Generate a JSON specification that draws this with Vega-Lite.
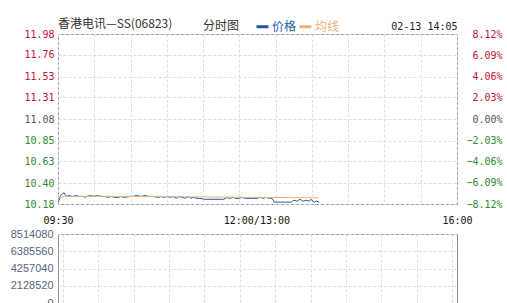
{
  "$schema": "https://vega.github.io/schema/vega-lite/v6.json",
  "background": "white",
  "padding": {"left": 9, "top": 17, "right": 4, "bottom": 2},
  "spacing": 1,
  "config": {
    "view": {"stroke": "#8c9099", "strokeWidth": 1},
    "axis": {"gridColor": "#dedede", "gridDash": [3, 2], "domain": false, "ticks": false, "labelFont": "DejaVu Sans Mono", "labelFontSize": 10, "labelColor": "#111"}
  },
  "vconcat": [
    {
      "width": 399,
      "height": 170,
      "title": {"text": "香港电讯—SS(06823)", "anchor": "start", "frame": "group", "fontSize": 12, "font": "Noto Sans CJK SC", "fontWeight": "normal", "color": "#333", "offset": -10},
      "resolve": {"scale": {"y": "independent"}, "axis": {"x": "independent"}},
      "layer": [
        {
          "data": {"values": [
            {"m":0,"v":10.20,"s":"价格"},{"m":1,"v":10.22,"s":"价格"},{"m":2,"v":10.27,"s":"价格"},{"m":5,"v":10.30,"s":"价格"},{"m":7,"v":10.26,"s":"价格"},{"m":9,"v":10.27,"s":"价格"},{"m":12,"v":10.26,"s":"价格"},{"m":15,"v":10.27,"s":"价格"},{"m":17,"v":10.26,"s":"价格"},{"m":21,"v":10.26,"s":"价格"},{"m":22,"v":10.25,"s":"价格"},{"m":24,"v":10.26,"s":"价格"},{"m":27,"v":10.27,"s":"价格"},{"m":30,"v":10.26,"s":"价格"},{"m":32,"v":10.27,"s":"价格"},{"m":36,"v":10.26,"s":"价格"},{"m":39,"v":10.26,"s":"价格"},{"m":41,"v":10.25,"s":"价格"},{"m":44,"v":10.26,"s":"价格"},{"m":47,"v":10.25,"s":"价格"},{"m":50,"v":10.25,"s":"价格"},{"m":52,"v":10.26,"s":"价格"},{"m":55,"v":10.25,"s":"价格"},{"m":59,"v":10.26,"s":"价格"},{"m":62,"v":10.26,"s":"价格"},{"m":65,"v":10.27,"s":"价格"},{"m":69,"v":10.26,"s":"价格"},{"m":72,"v":10.27,"s":"价格"},{"m":75,"v":10.26,"s":"价格"},{"m":79,"v":10.26,"s":"价格"},{"m":83,"v":10.25,"s":"价格"},{"m":85,"v":10.26,"s":"价格"},{"m":88,"v":10.25,"s":"价格"},{"m":90,"v":10.26,"s":"价格"},{"m":93,"v":10.25,"s":"价格"},{"m":95,"v":10.26,"s":"价格"},{"m":98,"v":10.24,"s":"价格"},{"m":100,"v":10.26,"s":"价格"},{"m":103,"v":10.25,"s":"价格"},{"m":105,"v":10.24,"s":"价格"},{"m":108,"v":10.26,"s":"价格"},{"m":110,"v":10.24,"s":"价格"},{"m":112,"v":10.25,"s":"价格"},{"m":115,"v":10.24,"s":"价格"},{"m":117,"v":10.24,"s":"价格"},{"m":121,"v":10.23,"s":"价格"},{"m":124,"v":10.23,"s":"价格"},{"m":129,"v":10.23,"s":"价格"},{"m":134,"v":10.23,"s":"价格"},{"m":137,"v":10.23,"s":"价格"},{"m":140,"v":10.25,"s":"价格"},{"m":142,"v":10.24,"s":"价格"},{"m":145,"v":10.25,"s":"价格"},{"m":147,"v":10.24,"s":"价格"},{"m":150,"v":10.24,"s":"价格"},{"m":152,"v":10.25,"s":"价格"},{"m":155,"v":10.24,"s":"价格"},{"m":158,"v":10.24,"s":"价格"},{"m":161,"v":10.24,"s":"价格"},{"m":165,"v":10.24,"s":"价格"},{"m":167,"v":10.25,"s":"价格"},{"m":170,"v":10.24,"s":"价格"},{"m":172,"v":10.25,"s":"价格"},{"m":175,"v":10.24,"s":"价格"},{"m":177,"v":10.24,"s":"价格"},{"m":179,"v":10.20,"s":"价格"},{"m":184,"v":10.20,"s":"价格"},{"m":189,"v":10.20,"s":"价格"},{"m":193,"v":10.20,"s":"价格"},{"m":195,"v":10.22,"s":"价格"},{"m":198,"v":10.21,"s":"价格"},{"m":200,"v":10.23,"s":"价格"},{"m":203,"v":10.21,"s":"价格"},{"m":205,"v":10.22,"s":"价格"},{"m":208,"v":10.21,"s":"价格"},{"m":209,"v":10.23,"s":"价格"},{"m":212,"v":10.20,"s":"价格"},{"m":214,"v":10.21,"s":"价格"},{"m":216,"v":10.20,"s":"价格"},
            {"m":0,"v":10.24,"s":"均线"},{"m":5,"v":10.26,"s":"均线"},{"m":30,"v":10.262,"s":"均线"},{"m":80,"v":10.258,"s":"均线"},{"m":120,"v":10.255,"s":"均线"},{"m":160,"v":10.25,"s":"均线"},{"m":190,"v":10.248,"s":"均线"},{"m":216,"v":10.245,"s":"均线"}
          ]},
          "mark": {"type": "line", "strokeWidth": 1},
          "encoding": {
            "x": {"field": "m", "type": "quantitative", "title": null,
              "scale": {"domain": [0, 330], "nice": false, "zero": false},
              "axis": {"values": [0,30,60,90,120,150,180,210,240,270,300,330],
                "labelExpr": "datum.value == 0 ? '09:30' : datum.value == 150 ? '12:00/13:00' : datum.value == 330 ? '16:00' : ''",
                "labelPadding": 11, "labelFlush": false, "labelOverlap": false,
                "labelOffset": {"condition": {"test": "datum.value == 150", "value": 17}, "value": 0}}},
            "y": {"field": "v", "type": "quantitative", "title": null,
              "scale": {"domain": [10.18, 11.98], "nice": false, "zero": false},
              "axis": {"values": [10.18,10.40,10.63,10.85,11.08,11.31,11.53,11.76,11.98], "format": ".2f", "labelPadding": 4,
                "labelColor": {"condition": [{"test": "datum.value > 11.09", "value": "#bf1430"}, {"test": "datum.value < 11.07", "value": "#2f8a2f"}], "value": "#555"}}},
            "color": {"field": "s", "type": "nominal",
              "scale": {"domain": ["价格", "均线"], "range": ["#1f5a96", "#f0b27a"]},
              "legend": {"orient": "none", "legendX": 145, "legendY": -15, "direction": "horizontal",
                "title": "分时图", "titleOrient": "left", "titleFont": "Noto Sans CJK SC", "titleFontSize": 12, "titleFontWeight": "normal", "titleColor": "#333", "titlePadding": 15,
                "symbolType": "stroke", "symbolSize": 144, "symbolStrokeWidth": 3,
                "labelFont": "Noto Sans CJK SC", "labelFontSize": 12, "labelOffset": 2, "columnPadding": -4, "padding": 0,
                "encode": {"labels": {"update": {"fill": {"signal": "datum.value === '价格' ? '#2163a3' : '#e8b47e'"}}}}}}
          }
        },
        {
          "data": {"values": [{"m": 0, "pct": -8.12}, {"m": 330, "pct": 8.12}]},
          "mark": {"type": "point", "opacity": 0},
          "encoding": {
            "x": {"field": "m", "type": "quantitative",
              "axis": {"orient": "top", "title": "02-13 14:05", "labels": false, "grid": false, "titleAnchor": "end", "titleFont": "DejaVu Sans Mono", "titleFontSize": 10, "titleFontWeight": "normal", "titleColor": "#222", "titlePadding": 3}},
            "y": {"field": "pct", "type": "quantitative", "title": null,
              "scale": {"domain": [-8.12, 8.12], "nice": false, "zero": false},
              "axis": {"orient": "right", "grid": false, "values": [-8.12,-6.09,-4.06,-2.03,0,2.03,4.06,6.09,8.12],
                "labelExpr": "format(datum.value, '.2f') + '%'", "labelAlign": "right", "labelPadding": 45,
                "labelColor": {"condition": [{"test": "datum.value > 0.01", "value": "#bf1430"}, {"test": "datum.value < -0.01", "value": "#2f8a2f"}], "value": "#555"}}}
          }
        }
      ]
    },
    {
      "width": 399,
      "height": 69,
      "data": {"values": [{"m": 0, "vol": 0}, {"m": 100, "vol": 0}, {"m": 216, "vol": 0}]},
      "mark": "bar",
      "encoding": {
        "x": {"field": "m", "type": "quantitative", "title": null,
          "scale": {"domain": [0, 330], "nice": false, "zero": false},
          "axis": {"values": [0,30,60,90,120,150,180,210,240,270,300,330], "labels": false}},
        "y": {"field": "vol", "type": "quantitative", "title": null,
          "scale": {"domain": [0, 8514080], "nice": false},
          "axis": {"values": [0, 2128520, 4257040, 6385560, 8514080], "format": "d", "labelFont": "Liberation Sans", "labelFontSize": 11, "labelColor": "#56667f", "labelPadding": 5}}
      }
    }
  ]
}
